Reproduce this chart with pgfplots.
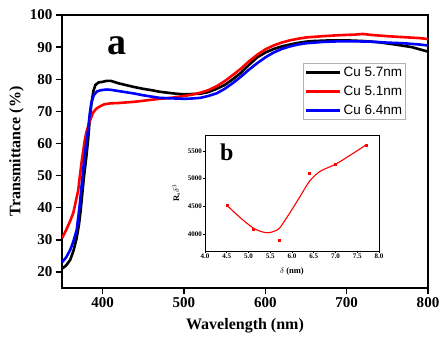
\documentclass[border=0pt]{standalone}
\usepackage{fontspec}
\setmainfont{Liberation Serif}
\newfontfamily\legfont{Liberation Sans}
\usepackage{pgfplots}
\pgfplotsset{compat=1.18}
\begin{document}
\begin{tikzpicture}
\useasboundingbox (-62pt,-59pt) rectangle (385pt,288pt);
\begin{axis}[
  at={(0pt,0pt)}, anchor=south west,
  scale only axis, width=366pt, height=273pt,
  xmin=350, xmax=800, ymin=15, ymax=100,
  xtick={400,500,600,700,800}, ytick={20,30,40,50,60,70,80,90,100},
  tick align=outside, tick pos=left, major tick length=6pt,
  axis line style={line width=1.4pt}, tick style={line width=1.4pt, black},
  /pgf/number format/assume math mode=true,
  ticklabel style={font=\fontsize{15}{17}\selectfont\bfseries},
  xlabel={Wavelength (nm)}, ylabel={Transmittance (\%)},
  label style={font=\fontsize{16}{18}\selectfont\bfseries},
  xlabel style={at={(axis description cs:0.5,-0.139)}, anchor=center},
  ylabel style={at={(axis description cs:-0.124,0.5)}, anchor=center, rotate=0},
  legend style={at={(axis description cs:0.658,0.824)}, anchor=north west,
    font=\legfont\fontsize{13.5}{14}\selectfont, draw=gray!60, line width=0.5pt,
    inner sep=1.5pt, row sep=4pt, cells={anchor=west}},
  legend image code/.code={\draw[line width=3pt] (0pt,0pt) -- (34pt,0pt);},
  every axis plot/.append style={line width=2.6pt},
]
\addplot[black] coordinates {
(350,21.0)(355,22.0)(360,23.7)(364,26.5)(368,30.5)(371,35)(373,39.3)(375,44.5)(377,49.6)(380,56)(382,61)(384,67)(386,72)(388.5,76.2)(391,78.2)(395,79.0)(400,79.2)(405,79.5)(410,79.5)(415,79.1)(420,78.7)(430,78.1)(440,77.5)(450,77.0)(460,76.6)(470,76.1)(480,75.8)(490,75.5)(500,75.3)(510,75.4)(520,75.5)(530,76.0)(540,77.0)(550,78.2)(560,80.0)(570,82.0)(580,84.5)(590,86.8)(600,88.3)(610,89.4)(620,90.2)(630,90.8)(640,91.3)(650,91.7)(660,91.9)(680,92.1)(700,92.1)(720,91.9)(740,91.5)(760,90.8)(780,90.0)(800,88.6)};
\addlegendentry{Cu 5.7nm}
\addplot[red] coordinates {
(350,30.5)(355,33)(360,35.8)(364,38.5)(367,42)(370,45.5)(372,50)(374,54)(376,57.5)(378,61)(380,63.5)(383.5,66.5)(388,69.5)(392,70.8)(397,71.6)(402,72.2)(410,72.5)(420,72.6)(430,72.8)(440,73.0)(450,73.3)(460,73.6)(470,73.9)(480,74.1)(490,74.4)(500,74.8)(510,75.2)(520,75.8)(530,76.6)(540,77.8)(550,79.4)(560,81.3)(570,83.3)(580,85.6)(590,87.6)(600,89.3)(610,90.5)(620,91.4)(630,92.1)(640,92.6)(650,93.0)(670,93.4)(690,93.7)(710,93.9)(720,94.1)(730,93.8)(750,93.4)(770,93.1)(790,92.8)(800,92.5)};
\addlegendentry{Cu 5.1nm}
\addplot[blue] coordinates {
(350,23.0)(355,24.5)(360,26.8)(364,29.5)(368,33)(370,37)(372,41.4)(374,46.5)(376,51.7)(378,56.5)(380,60.5)(382,64)(384,69)(386,72.5)(389,75)(393,76.2)(398,76.6)(405,76.8)(410,76.7)(420,76.3)(430,75.9)(440,75.5)(450,75.0)(460,74.6)(470,74.2)(480,74.1)(490,74.0)(500,73.9)(510,74.0)(520,74.2)(530,74.8)(540,75.6)(550,77.0)(560,78.8)(570,80.8)(580,83.0)(590,85.0)(600,86.8)(610,88.3)(620,89.4)(630,90.2)(640,90.8)(650,91.2)(670,91.6)(690,91.8)(710,91.8)(730,91.7)(750,91.4)(770,91.2)(790,90.8)(800,90.5)};
\addlegendentry{Cu 6.4nm}
\node at (axis cs:418,90.3) {\fontsize{38}{40}\selectfont\bfseries a};
\end{axis}
\begin{axis}[
  at={(143pt,37pt)}, anchor=south west,
  scale only axis, width=174pt, height=116pt,
  axis background/.style={fill=white},
  xmin=4, xmax=8, ymin=3690, ymax=5790,
  xtick={4,4.5,5,5.5,6,6.5,7,7.5,8}, ytick={4000,4500,5000,5500},
  xticklabel style={/pgf/number format/.cd, fixed, fixed zerofill, precision=1},
  yticklabel style={/pgf/number format/.cd, 1000 sep={}},
  tick align=outside, tick pos=left, major tick length=2pt,
  axis line style={line width=0.6pt}, tick style={line width=0.6pt, black},
  /pgf/number format/assume math mode=true,
  ticklabel style={font=\fontsize{7}{8}\selectfont\bfseries, inner sep=1pt},
  xlabel={$\delta$ (nm)}, ylabel={R$_\mathrm{s}\delta^3$},
  label style={font=\fontsize{8.5}{9}\selectfont\bfseries},
  xlabel style={at={(axis description cs:0.5,-0.175)}, anchor=center},
  ylabel style={at={(axis description cs:-0.165,0.5)}, anchor=center},
]
\addplot[red, line width=1.1pt, smooth, tension=0.5] coordinates {
(4.5,4520)(4.8,4300)(5.1,4110)(5.3,4040)(5.45,4020)(5.6,4050)(5.72,4110)(5.95,4380)(6.18,4670)(6.4,4950)(6.64,5130)(7.0,5260)(7.35,5430)(7.7,5610)};
\addplot[red, only marks, mark=square*, mark size=1pt] coordinates {
(4.5,4520)(5.1,4090)(5.7,3890)(6.4,5090)(7.0,5255)(7.7,5610)};
\node at (axis cs:4.5,5470) {\fontsize{24}{26}\selectfont\bfseries b};
\end{axis}
\end{tikzpicture}
\end{document}
